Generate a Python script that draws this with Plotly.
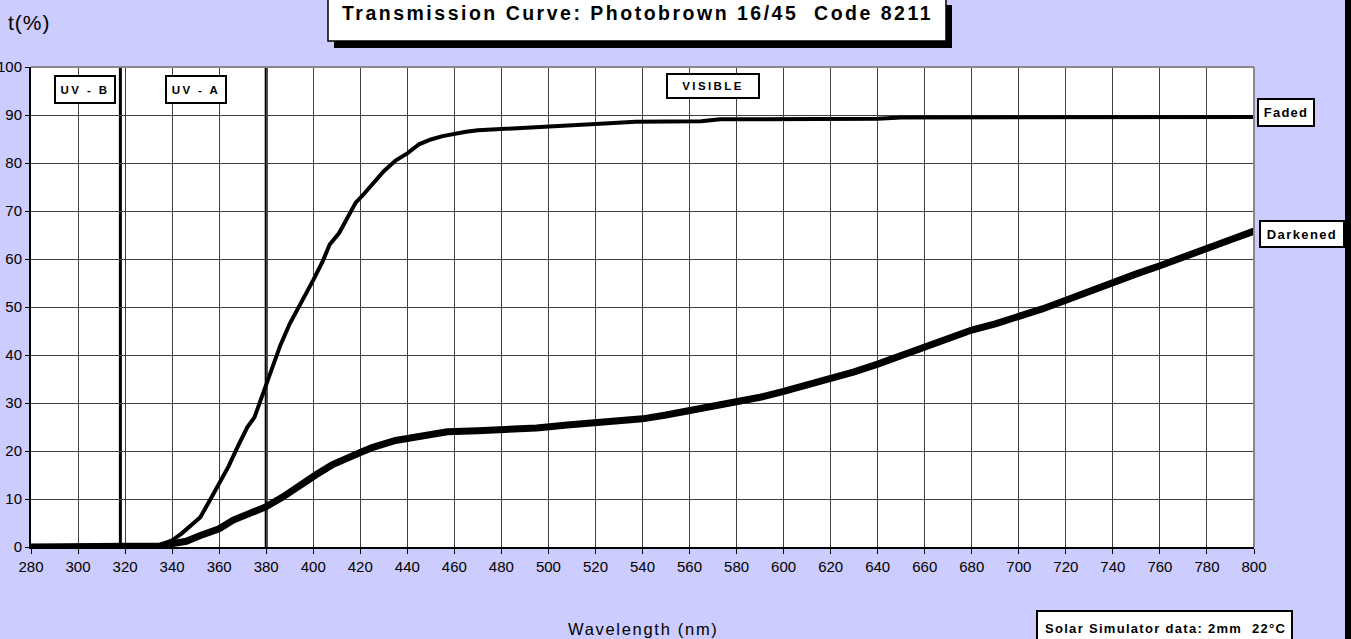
import plotly.graph_objects as go

# ---------------- data ----------------
faded_nm = [280, 300, 320, 330, 335, 340, 344, 348, 352, 356, 360, 364, 368, 372, 375, 378,
            380, 383, 386, 390, 394, 397, 400, 404, 407, 411, 415, 418, 422, 426, 430, 435,
            440, 445, 450, 455, 460, 465, 470, 477, 485, 492, 500, 512, 522, 537, 550, 565,
            573, 600, 620, 640, 650, 700, 750, 800]
faded_t = [0, 0, 0, 0.1, 0.5, 1.4, 2.8, 4.5, 6.2, 9.7, 13.2, 16.8, 21.0, 25.0, 27.0, 31.0,
           34.0, 38.0, 42.0, 46.5, 50.0, 53.0, 55.6, 59.5, 63.0, 65.4, 69.0, 71.7, 73.8, 76.0, 78.3, 80.5,
           82.0, 83.9, 84.9, 85.6, 86.1, 86.5, 86.8, 87.0, 87.2, 87.4, 87.6, 88.1, 88.2, 88.6, 88.7, 88.7,
           89.1, 89.1, 89.2, 89.2, 89.5, 89.6, 89.6, 89.6]

dark_nm = [280, 320, 330, 335, 340, 346, 352, 360, 366, 373, 380, 387, 394, 401, 408, 414,
           420, 425, 430, 435, 440, 448, 457, 470, 480, 495, 508, 520, 530, 540, 550, 560,
           570, 580, 590, 600, 610, 620, 630, 640, 650, 660, 670, 680, 690, 700, 710, 720,
           730, 740, 750, 760, 770, 780, 790, 800]
dark_t = [0, 0, 0, 0.2, 0.7, 1.2, 2.4, 3.8, 5.6, 7.0, 8.4, 10.4, 12.9, 15.0, 17.1, 18.6,
          19.7, 20.7, 21.6, 22.2, 22.6, 23.3, 24.0, 24.2, 24.4, 24.8, 25.4, 25.8, 26.2, 26.7, 27.5, 28.4,
          29.2, 30.1, 31.2, 32.4, 33.7, 35.0, 36.5, 38.1, 39.8, 41.6, 43.4, 45.2, 46.5, 47.9, 49.6, 51.4,
          53.3, 55.2, 56.9, 58.6, 60.3, 62.1, 64.0, 65.8]

band_edges = [318, 380]
x_ticks = list(range(280, 801, 20))
y_ticks = list(range(0, 101, 10))

title_text = "Transmission Curve: Photobrown 16/45\u00a0\u00a0Code 8211"
y_title = "t(%)"
x_title = "Wavelength (nm)"
note_text = "Solar Simulator data: 2mm\u00a0\u00a022°C"

# ---------------- layout geometry (pixels) ----------------
W, H = 1351, 639
L, R, T, B = 31, 1254, 67, 547
FONT = "Liberation Sans, Arial, sans-serif"
BG = "#CCCCFF"


def px(xp):
    return (xp - L) / (R - L)


def py(yp):
    return (B - yp) / (B - T)


def spaced(text, ls):
    return f'<span style="letter-spacing:{ls}px">{text}</span>'


fig = go.Figure()
fig.add_trace(go.Scatter(x=faded_nm, y=faded_t, mode="lines", name="Faded",
                         line=dict(color="black", width=4), showlegend=False))
fig.add_trace(go.Scatter(x=dark_nm, y=dark_t, mode="lines", name="Darkened",
                         line=dict(color="black", width=7), showlegend=False))

shapes = []
for e in band_edges:
    shapes.append(dict(type="line", xref="x", yref="paper", x0=e, x1=e, y0=0, y1=1,
                       line=dict(color="black", width=3), layer="between"))
# plot-area border top/right (gray)
shapes.append(dict(type="line", xref="paper", yref="paper", x0=0, x1=1, y0=1, y1=1,
                   line=dict(color="#888888", width=2)))
shapes.append(dict(type="line", xref="paper", yref="paper", x0=1, x1=1, y0=0, y1=1,
                   line=dict(color="#888888", width=2)))
# right frame border
shapes.append(dict(type="line", xref="paper", yref="paper", x0=px(1348), x1=px(1348),
                   y0=py(700), y1=py(-50), line=dict(color="black", width=6)))
# title box with shadow
shapes.append(dict(type="rect", xref="paper", yref="paper", x0=px(334), x1=px(952),
                   y0=py(48), y1=py(5), fillcolor="black", line=dict(width=0)))
shapes.append(dict(type="rect", xref="paper", yref="paper", x0=px(328), x1=px(946),
                   y0=py(41), y1=py(-5), fillcolor="white", line=dict(color="black", width=1.5)))
# note box
shapes.append(dict(type="rect", xref="paper", yref="paper", x0=px(1037), x1=px(1292),
                   y0=py(660), y1=py(611), fillcolor="white", line=dict(color="black", width=2)))

annotations = []
annotations.append(dict(text=spaced(title_text, 2.5), xref="paper", yref="paper",
                        x=px(637.5), y=py(13), xanchor="center", yanchor="middle",
                        showarrow=False, font=dict(family=FONT, size=19.5, color="black", weight="bold")))
annotations.append(dict(text=spaced(y_title, 1), xref="paper", yref="paper",
                        x=px(29.5), y=py(22.5), xanchor="center", yanchor="middle",
                        showarrow=False, font=dict(family=FONT, size=21, color="black")))
annotations.append(dict(text=spaced(x_title, 1.7), xref="paper", yref="paper",
                        x=px(643.5), y=py(628.5), xanchor="center", yanchor="middle",
                        showarrow=False, font=dict(family=FONT, size=16.5, color="black")))
annotations.append(dict(text=spaced(note_text, 1.3), xref="paper", yref="paper",
                        x=px(1165.5), y=py(628), xanchor="center", yanchor="middle",
                        showarrow=False, font=dict(family=FONT, size=13, color="black", weight="bold")))

box_font = dict(family=FONT, size=11.5, color="black", weight="bold")
for txt, cx, cy, w, h, ls in [("UV - B", 302.96, 95.3, 58, 25, 2.4),
                              ("UV - A", 350.15, 95.3, 58, 25, 2.4),
                              ("VISIBLE", 569.97, 96.0, 90, 22, 2.4)]:
    annotations.append(dict(text=spaced(txt, ls), xref="x", yref="y", x=cx, y=cy,
                            xanchor="center", yanchor="middle", showarrow=False,
                            width=w, height=h, borderpad=0, borderwidth=2,
                            bordercolor="black", bgcolor="white", font=box_font))

lbl_font = dict(family=FONT, size=13, color="black", weight="bold")
annotations.append(dict(text=spaced("Faded", 1.2), xref="x", yref="y",
                        x=faded_nm[-1], y=faded_t[-1], xanchor="left", yanchor="middle",
                        xshift=3, yshift=4.5, showarrow=False, width=54, height=25,
                        borderpad=0, borderwidth=2, bordercolor="black", bgcolor="white",
                        font=lbl_font))
annotations.append(dict(text=spaced("Darkened", 1.4), xref="x", yref="y",
                        x=dark_nm[-1], y=dark_t[-1], xanchor="left", yanchor="middle",
                        xshift=5, yshift=-3, showarrow=False, width=82, height=24,
                        borderpad=0, borderwidth=2, bordercolor="black", bgcolor="white",
                        font=lbl_font))

fig.update_layout(
    width=W, height=H, autosize=False,
    margin=dict(l=L, r=W - R, t=T, b=H - B, pad=0, autoexpand=False),
    paper_bgcolor=BG, plot_bgcolor="white",
    font=dict(family=FONT, color="black"),
    shapes=shapes, annotations=annotations, showlegend=False,
    xaxis=dict(range=[280, 800], tickvals=x_ticks, ticks="outside", ticklen=5,
               tickcolor="black", tickwidth=1, showgrid=True, gridcolor="#404040", gridwidth=1,
               showline=True, linecolor="black", linewidth=2, zeroline=False, automargin=False,
               tickfont=dict(family=FONT, size=15, color="black")),
    yaxis=dict(range=[0, 100], tickvals=y_ticks, ticks="outside", ticklen=4,
               tickcolor="black", tickwidth=1, showgrid=True, gridcolor="#404040", gridwidth=1,
               showline=True, linecolor="black", linewidth=2, zeroline=False, automargin=False,
               tickfont=dict(family=FONT, size=15, color="black")),
)

fig.write_html("out.html", config={"displayModeBar": False},
               post_script="document.body.style.margin='0';")
